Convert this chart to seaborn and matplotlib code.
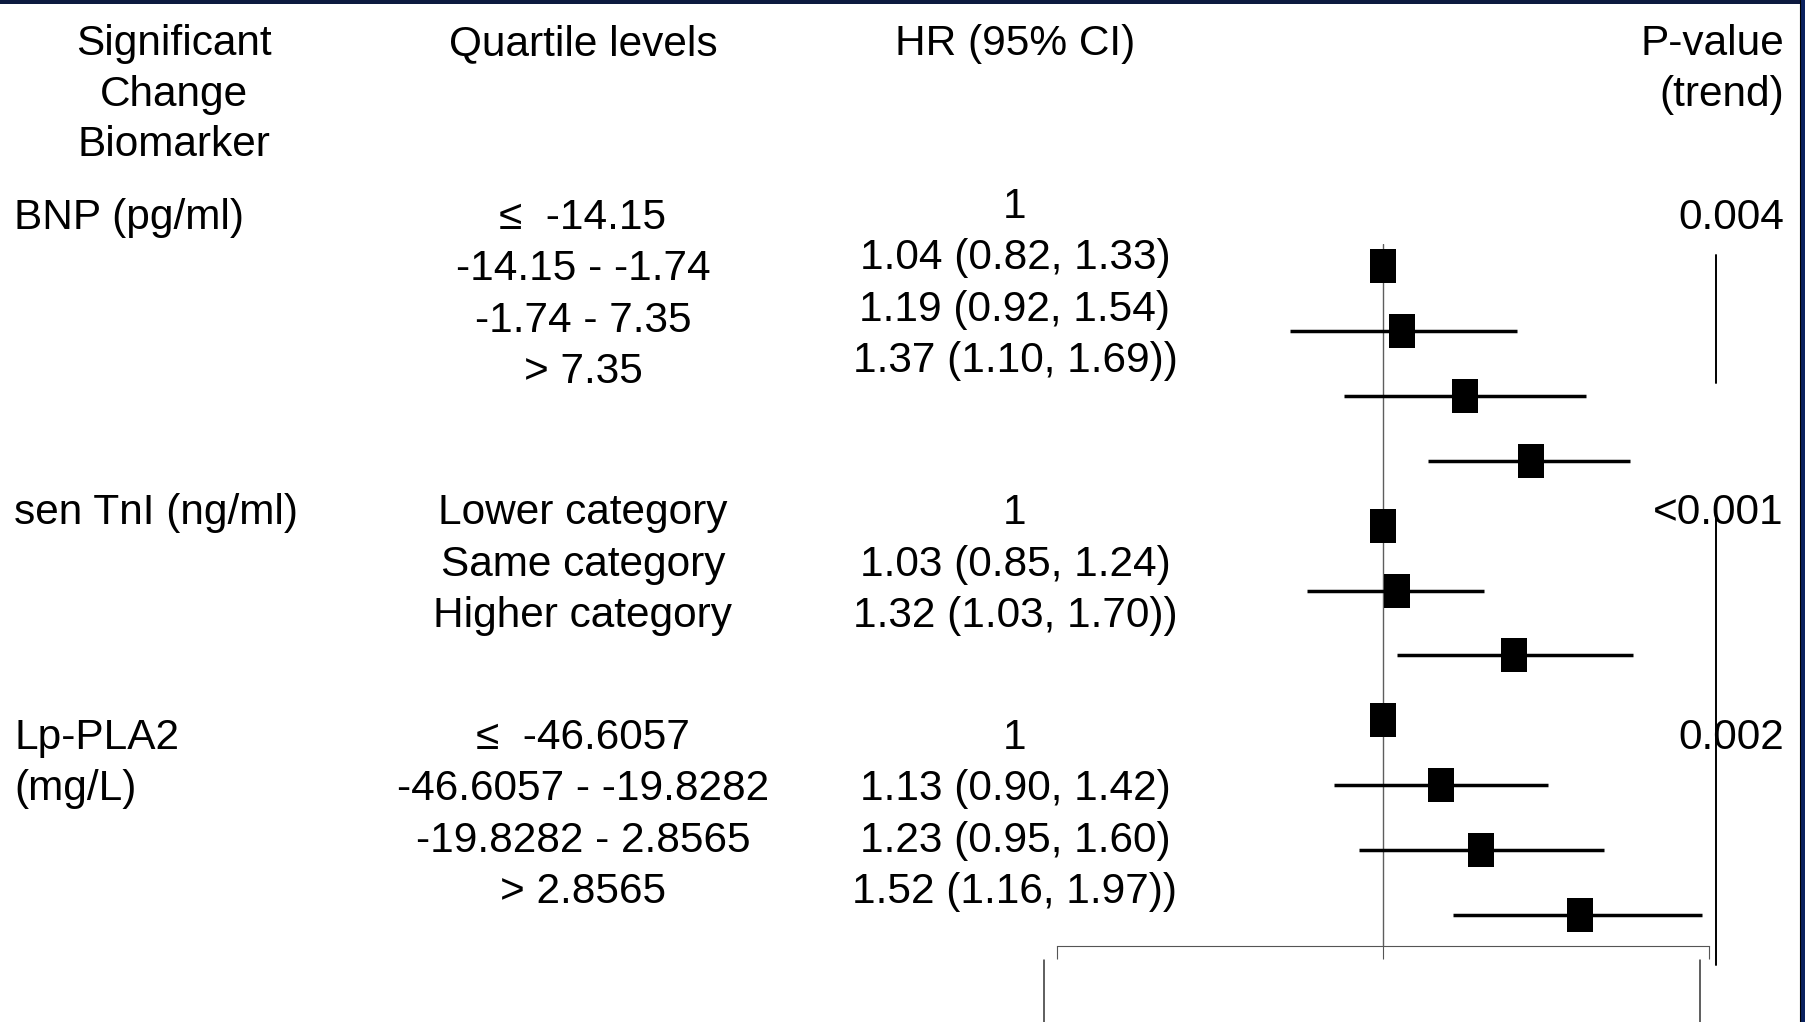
import numpy as np
import pandas as pd
import matplotlib
matplotlib.use("Agg")
import matplotlib.pyplot as plt
from matplotlib.path import Path
from matplotlib.lines import Line2D
from matplotlib.patches import Rectangle
import seaborn as sns

# ---------------- data ----------------
biomarkers = ["BNP (pg/ml)", "sen TnI (ng/ml)", "Lp-PLA2\n(mg/L)"]
quartile_bnp = ["\u2264  -14.15", "-14.15 - -1.74", "-1.74 - 7.35", "> 7.35"]
quartile_tni = ["Lower category", "Same category", "Higher category"]
quartile_lp = ["\u2264  -46.6057", "-46.6057 - -19.8282", "-19.8282 - 2.8565", "> 2.8565"]
hr_text_bnp = ["1", "1.04 (0.82, 1.33)", "1.19 (0.92, 1.54)", "1.37 (1.10, 1.69))"]
hr_text_tni = ["1", "1.03 (0.85, 1.24)", "1.32 (1.03, 1.70))"]
hr_text_lp = ["1", "1.13 (0.90, 1.42)", "1.23 (0.95, 1.60)", "1.52 (1.16, 1.97))"]
p_values = ["0.004", "<0.001", "0.002"]

hr = [1.00, 1.04, 1.19, 1.37, 1.00, 1.03, 1.32, 1.00, 1.13, 1.23, 1.52]
ci_low = [np.nan, 0.82, 0.92, 1.10, np.nan, 0.85, 1.03, np.nan, 0.90, 0.95, 1.16]
ci_high = [np.nan, 1.33, 1.54, 1.69, np.nan, 1.24, 1.70, np.nan, 1.42, 1.60, 1.97]
axis_ticks = [0.5, 1, 2]

df = pd.DataFrame({"row": np.arange(len(hr)), "hr": hr, "lo": ci_low, "hi": ci_high})

# ---------------- style ----------------
sns.set_theme(style="white")
plt.rcParams["font.family"] = ["Liberation Sans", "DejaVu Sans"]

W, H = 1806, 1022
fig = plt.figure(figsize=(W / 100, H / 100), dpi=100)
fig.patch.set_facecolor("white")

FS = 30.5


def fx(px):
    return px / W


def fy(py):
    return 1 - py / H


def put(x, y, s, ha="center"):
    fig.text(fx(x), fy(y), s, ha=ha, va="baseline", fontsize=FS, color="black")


# headers
for i, line in enumerate(["Significant", "Change", "Biomarker"]):
    put(174, 55 + i * 50.7, line)
put(583, 55, "Quartile levels")
put(1015, 55, "HR (95% CI)")
put(1784, 55, "P-value", ha="right")
put(1784, 105.7, "(trend)", ha="right")

pitch = 51.4
group_base = [229, 524.3, 749]
hr_base = [218, 524.3, 749]
quart_groups = [quartile_bnp, quartile_tni, quartile_lp]
hr_groups = [hr_text_bnp, hr_text_tni, hr_text_lp]

for g in range(3):
    for j, line in enumerate(biomarkers[g].split("\n")):
        put(14, group_base[g] + j * pitch, line, ha="left")
    for j, q in enumerate(quart_groups[g]):
        put(583, group_base[g] + j * pitch, q)
    for j, t in enumerate(hr_groups[g]):
        put(1015, hr_base[g] + j * pitch, t)
    put(1784, group_base[g], p_values[g], ha="right")

# ---------------- forest axes ----------------
ax_left, ax_right = 1057.5, 1709.1
ax_top, ax_bot = 244.1, 946
ax = fig.add_axes([fx(ax_left), fy(ax_bot), (ax_right - ax_left) / W, (ax_bot - ax_top) / H])
ax.set_facecolor("none")
ax.set_xscale("log")

ax.axvline(1, color="#5e5e5e", lw=1.0, zorder=1)
ci = df.dropna()
ax.hlines(ci["row"], ci["lo"], ci["hi"], color="black", lw=2.5, zorder=2)

rect = Path([(-0.368, -0.5), (0.368, -0.5), (0.368, 0.5), (-0.368, 0.5), (-0.368, -0.5)],
            [Path.MOVETO, Path.LINETO, Path.LINETO, Path.LINETO, Path.CLOSEPOLY])
sns.scatterplot(data=df, x="hr", y="row", marker=rect, s=620, color="black",
                linewidth=0, ax=ax, zorder=3, legend=False)

ax.set_xlim(0.5, 2)
ax.set_ylim(10.48, -0.34)
ax.set_xticks(axis_ticks)
ax.xaxis.set_minor_locator(matplotlib.ticker.NullLocator())
ax.tick_params(axis="x", which="major", direction="out", length=9.4, width=0.8,
               color="#555555", labelbottom=False, bottom=True)
ax.set_yticks([])
ax.set_xlabel("")
ax.set_ylabel("")
for side in ["top", "left", "right"]:
    ax.spines[side].set_visible(False)
ax.spines["bottom"].set_color("#555555")
ax.spines["bottom"].set_linewidth(0.8)

# lines below the axis (cut-off frame)
for xa in [-0.0207, 0.9862]:
    ax.add_line(Line2D([xa, xa], [-0.0200, -0.12], transform=ax.transAxes,
                       color="#333333", lw=1.1, clip_on=False))

# p-value trend lines
for (y0, y1) in [(255, 383), (518, 965)]:
    fig.add_artist(Line2D([fx(1716), fx(1716)], [fy(y0), fy(y1)], color="black", lw=1.4))

# slide border
fig.add_artist(Rectangle((0, fy(4)), 1, 4 / H, transform=fig.transFigure,
                         color="#0d1a3f", lw=0, zorder=10))
fig.add_artist(Rectangle((fx(1800), 0), 6 / W, 1, transform=fig.transFigure,
                         color="#0a215e", lw=0, zorder=10))
fig.add_artist(Line2D([fx(1800.5), fx(1800.5)], [0, 1], color="black", lw=0.8, zorder=11))

fig.savefig("out.png", dpi=100)
